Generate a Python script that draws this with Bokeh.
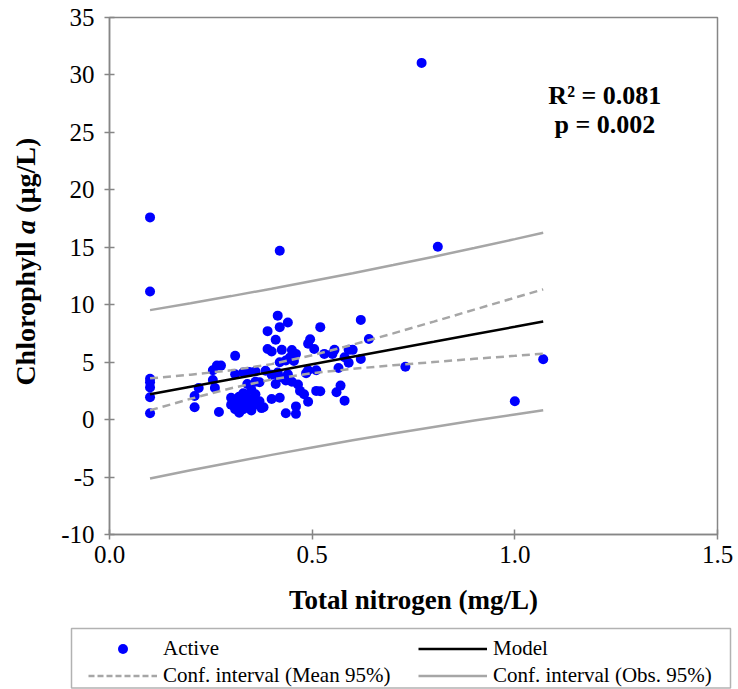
import math
from bokeh.plotting import figure
from bokeh.layouts import column, row
from bokeh.models import (Legend, LegendItem, Label, BoxAnnotation, FixedTicker,
                          NumeralTickFormatter, Range1d, ColumnDataSource)
from bokeh.embed import file_html
from bokeh.resources import INLINE

# ---- data ----
tn = [0.10, 0.10, 0.10, 0.10, 0.10, 0.10, 0.10,
      0.21, 0.21, 0.22,
      0.255, 0.265, 0.275, 0.255, 0.26, 0.27,
      0.31, 0.31, 0.33, 0.345, 0.36,
      0.30, 0.30, 0.31, 0.31, 0.32, 0.32, 0.32, 0.33, 0.33, 0.34, 0.34, 0.35, 0.35,
      0.36, 0.36, 0.34, 0.37, 0.37, 0.375, 0.38, 0.33, 0.35, 0.36,
      0.39, 0.415, 0.42, 0.44, 0.41, 0.39, 0.40, 0.425, 0.45, 0.46, 0.42, 0.435,
      0.445, 0.455, 0.385, 0.40, 0.415, 0.42, 0.44, 0.41, 0.435, 0.45, 0.465,
      0.42, 0.40, 0.435, 0.46, 0.46, 0.47, 0.48,
      0.42,
      0.52, 0.495, 0.49, 0.505, 0.53, 0.49, 0.51, 0.485, 0.51, 0.49,
      0.62, 0.64, 0.555, 0.59, 0.60, 0.55, 0.58, 0.59, 0.62, 0.565, 0.73,
      0.52, 0.56, 0.57, 0.58,
      0.77, 0.81, 1.00, 1.07]
chla = [17.6, 11.15, 3.55, 3.25, 2.8, 1.95, 0.55,
        2.05, 1.07, 2.75,
        4.3, 4.7, 4.7, 3.45, 2.76, 0.66,
        5.55, 3.95, 4.1, 4.15, 4.2,
        1.9, 1.3, 0.9, 1.6, 0.6, 1.2, 2.0, 0.9, 1.5, 1.9, 1.1, 0.8, 1.6,
        1.3, 2.2, 3.1, 3.25, 1.6, 1.0, 1.07, 2.3, 2.6, 3.3,
        7.7, 9.05, 8.05, 8.45, 6.95, 6.15, 5.93, 6.07, 6.05, 5.72, 5.0, 5.15,
        5.4, 5.1, 4.26, 3.9, 4.1, 3.68, 3.95, 3.1, 3.4, 3.3, 3.05,
        1.9, 1.8, 0.55, 1.15, 0.5, 2.5, 2.2,
        14.7,
        8.05, 7.0, 6.6, 6.15, 5.72, 4.3, 4.3, 4.03, 2.5, 1.55,
        8.68, 7.02, 6.07, 6.07, 6.07, 5.72, 5.43, 4.95, 5.28, 4.5, 4.6,
        2.47, 2.38, 2.96, 1.65,
        31.05, 15.05, 1.6, 5.25]

fit_x = [0.1, 0.2, 0.3, 0.4, 0.5, 0.6, 0.7, 0.8, 0.9, 1.0, 1.07]
model_y = [2.20, 2.86, 3.51, 4.16, 4.82, 5.47, 6.12, 6.77, 7.43, 8.08, 8.54]
mean_upper = [3.59, 3.91, 4.29, 4.83, 5.60, 6.52, 7.51, 8.53, 9.57, 10.61, 11.34]
mean_lower = [0.81, 1.81, 2.73, 3.49, 4.04, 4.42, 4.73, 5.01, 5.29, 5.55, 5.74]
obs_upper = [9.53, 10.13, 10.75, 11.39, 12.06, 12.74, 13.45, 14.18, 14.94, 15.71, 16.26]
obs_lower = [-5.13, -4.41, -3.73, -3.07, -2.42, -1.80, -1.21, -0.64, -0.08, 0.45, 0.82]

x_ticks = [0.0, 0.5, 1.0, 1.5]
y_ticks = [-10, -5, 0, 5, 10, 15, 20, 25, 30, 35]

legend_labels = ["Active", "Model", "Conf. interval (Mean 95%)", "Conf. interval (Obs. 95%)"]
y_title_parts = ["Chlorophyll", "a", "(\u00b5g/L)"]

FONT = "Liberation Serif"
AXIS_GREY = "#868686"
CI_GREY = "#A6A6A6"
BLUE = "#0000FF"

MAIN_H = 626
YT_W = 45
NAN = float("nan")

# ---------------- main plot ----------------
p = figure(width=738 - YT_W, height=MAIN_H, x_range=Range1d(0, 1.5), y_range=Range1d(-10, 35),
           output_backend="svg", toolbar_location=None,
           min_border_left=109 - YT_W, min_border_right=21, min_border_top=17,
           min_border_bottom=MAIN_H - 534)
p.grid.visible = False
p.outline_line_color = AXIS_GREY
p.outline_line_width = 1.5

pts = ColumnDataSource(dict(x=tn, y=chla))
fit = ColumnDataSource(dict(x=fit_x, m=model_y, mu=mean_upper, ml=mean_lower,
                            ou=obs_upper, ol=obs_lower))

p.scatter("x", "y", source=pts, size=10, color=BLUE, line_color=None)
p.line("x", "ou", source=fit, line_color=CI_GREY, line_width=2.5)
p.line("x", "ol", source=fit, line_color=CI_GREY, line_width=2.5)
p.line("x", "mu", source=fit, line_color=CI_GREY, line_width=2.5, line_dash="8 5")
p.line("x", "ml", source=fit, line_color=CI_GREY, line_width=2.5, line_dash="8 5")
p.line("x", "m", source=fit, line_color="black", line_width=2.5)

p.xaxis.ticker = FixedTicker(ticks=x_ticks)
p.xaxis.formatter = NumeralTickFormatter(format="0.0")
p.yaxis.ticker = FixedTicker(ticks=y_ticks)
p.yaxis.formatter = NumeralTickFormatter(format="0")
for ax in (p.xaxis, p.yaxis):
    ax.axis_line_color = AXIS_GREY
    ax.axis_line_width = 1.5
    ax.major_tick_line_color = AXIS_GREY
    ax.major_tick_line_width = 1.5
    ax.major_tick_in = 5
    ax.major_tick_out = 5
    ax.minor_tick_line_color = None
    ax.major_label_text_font = FONT
    ax.major_label_text_font_size = "25px"
    ax.major_label_text_color = "black"
p.yaxis.major_label_standoff = 10
p.xaxis.major_label_standoff = 6
p.xaxis.axis_label = "Total nitrogen (mg/L)"
p.xaxis.axis_label_text_font = FONT
p.xaxis.axis_label_text_font_style = "bold"
p.xaxis.axis_label_text_font_size = "27px"
p.xaxis.axis_label_text_color = "black"
p.xaxis.axis_label_standoff = 19

for txt, yv in [("R\u00b2 = 0.081", 28.2), ("p = 0.002", 25.7)]:
    p.add_layout(Label(x=1.222, y=yv, text=txt, text_align="center",
                       text_baseline="middle", text_font=FONT, text_font_style="bold",
                       text_font_size="26px", text_color="black"))

# ---------------- y-axis title strip (shares the main y scale) ----------------
yt = figure(width=YT_W, height=MAIN_H, x_range=Range1d(0, YT_W), y_range=p.y_range,
            x_axis_location=None, y_axis_location=None, min_border=0,
            min_border_top=17, min_border_bottom=MAIN_H - 534,
            outline_line_color=None, toolbar_location=None, output_backend="svg")
yt.grid.visible = False
for txt, yv, style in [(y_title_parts[0], 2.96, "bold"),
                       (y_title_parts[1], 16.16, "bold italic"),
                       (y_title_parts[2], 17.99, "bold")]:
    yt.add_layout(Label(x=25, y=yv, text=txt, angle=math.pi / 2,
                        text_align="left", text_baseline="middle",
                        text_font=FONT, text_font_style=style,
                        text_font_size="28px", text_color="black"))

# ---------------- legend strip ----------------
LEG_H = 689 - MAIN_H
lg = figure(width=738, height=LEG_H, x_range=Range1d(0, 738), y_range=Range1d(LEG_H, 0),
            x_axis_location=None, y_axis_location=None, min_border=0,
            outline_line_color=None, toolbar_location=None, output_backend="svg")
lg.grid.visible = False
l_pts = lg.scatter(x=[NAN], y=[NAN], size=9, color=BLUE, line_color=None)
l_m = lg.line(x=[NAN], y=[NAN], line_color="black", line_width=2.5)
l_mu = lg.line(x=[NAN], y=[NAN], line_color=CI_GREY, line_width=2.5, line_dash="6 3")
l_ou = lg.line(x=[NAN], y=[NAN], line_color=CI_GREY, line_width=2.5)
legend = Legend(items=[LegendItem(label=legend_labels[0], renderers=[l_pts]),
                       LegendItem(label=legend_labels[1], renderers=[l_m]),
                       LegendItem(label=legend_labels[2], renderers=[l_mu]),
                       LegendItem(label=legend_labels[3], renderers=[l_ou])],
                location=(88, 1.5), orientation="horizontal", ncols=2,
                padding=0, spacing=2, margin=0,
                glyph_width=69, glyph_height=25, label_height=25, label_width=253,
                label_standoff=6, border_line_alpha=0, background_fill_alpha=0,
                label_text_font=FONT, label_text_font_size="21px",
                label_text_color="black")
lg.add_layout(legend, "center")
lg.add_layout(BoxAnnotation(left=71, right=730, top=2, bottom=61.5,
                            fill_alpha=0, line_color="black", line_width=1.5))

layout = column(row(yt, p, spacing=0), lg, spacing=0)
open("out.html", "w").write(file_html(layout, INLINE))
